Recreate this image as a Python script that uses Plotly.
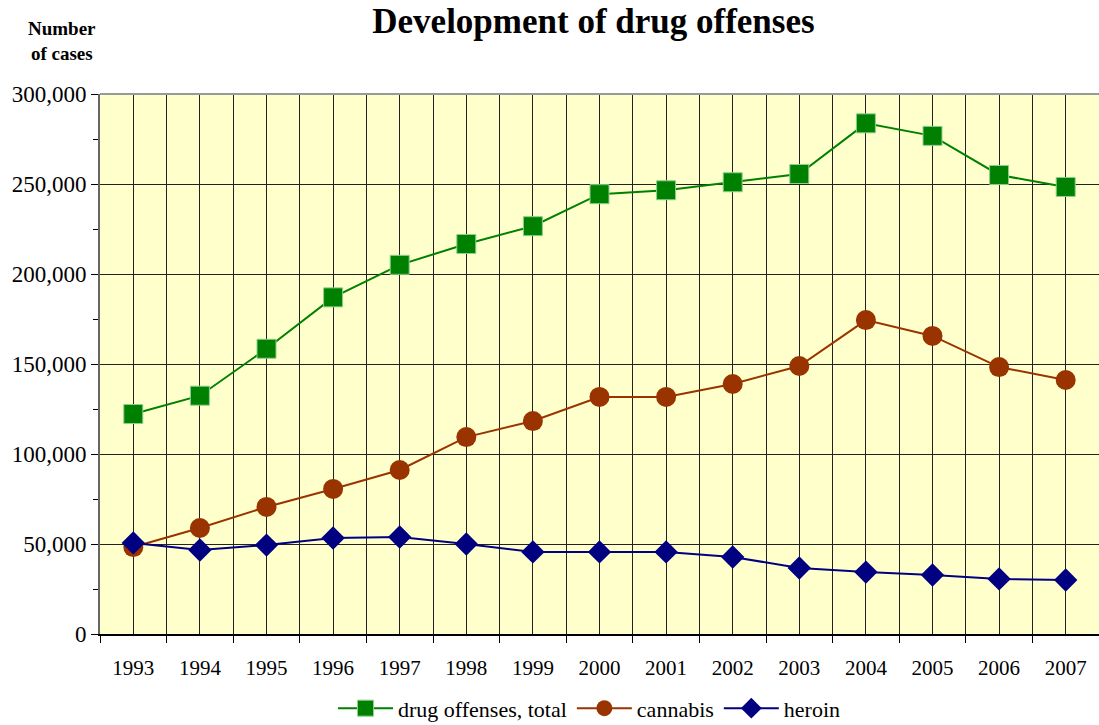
import plotly.graph_objects as go

YEARS = ["1993", "1994", "1995", "1996", "1997", "1998", "1999", "2000",
         "2001", "2002", "2003", "2004", "2005", "2006", "2007"]
TOTAL = [122240, 132389, 158477, 187022, 205099, 216682, 226563, 244336,
         246518, 250969, 255575, 283708, 276740, 255019, 248355]
CANNABIS = [48300, 58900, 70600, 80600, 91100, 109400, 118300, 131700,
            131700, 138900, 148900, 174400, 165600, 148300, 141100]
HEROIN = [50600, 46700, 49400, 53300, 53900, 50000, 45600, 45600,
          45600, 42800, 36700, 34400, 32800, 30600, 30000]

SERIF = "Liberation Serif, Times New Roman, serif"
GREEN = "#008000"
BROWN = "#993300"
NAVY = "#000080"

xs = list(range(len(YEARS)))
bounds = [i - 0.5 for i in range(len(YEARS) + 1)]

fig = go.Figure()
fig.add_trace(go.Scatter(
    x=xs, y=TOTAL, mode="lines+markers", name="drug offenses, total",
    line={"color": GREEN, "width": 2},
    marker={"symbol": "square", "size": 19, "color": GREEN,
            "line": {"color": "#8fcf8f", "width": 1}},
))
fig.add_trace(go.Scatter(
    x=xs, y=CANNABIS, mode="lines+markers", name="cannabis",
    line={"color": BROWN, "width": 2},
    marker={"symbol": "circle", "size": 20, "color": BROWN},
))
fig.add_trace(go.Scatter(
    x=xs, y=HEROIN, mode="lines+markers", name="heroin",
    line={"color": NAVY, "width": 2},
    marker={"symbol": "diamond", "size": 18, "color": NAVY},
))

fig.update_layout(
    width=1099, height=725,
    paper_bgcolor="white", plot_bgcolor="#FFFFCC",
    margin={"l": 100, "r": 0, "t": 94, "b": 91, "autoexpand": False},
    font={"family": SERIF, "size": 20, "color": "black"},
    title={"text": "<b>Development of drug offenses</b>", "x": 0.54, "xanchor": "center",
           "y": 0.988, "yanchor": "top", "font": {"size": 35, "family": SERIF}},
    legend={"orientation": "h", "x": 0.49, "xanchor": "center",
            "yref": "container", "y": 0.023, "yanchor": "middle",
            "font": {"size": 22, "family": SERIF}, "itemwidth": 55},
    showlegend=True,
)
fig.add_annotation(
    text="<b>Number<br>of cases</b>", xref="paper", yref="paper",
    x=-0.038, y=1.098, xanchor="center", yanchor="middle", showarrow=False,
    font={"size": 19, "family": SERIF}, align="center",
)
fig.update_xaxes(
    range=[-0.5, len(YEARS) - 0.5], automargin=False,
    tickmode="array", tickvals=xs, ticktext=YEARS, ticks="",
    ticklabelstandoff=14,
    showgrid=True, gridcolor="#222222", gridwidth=1,
    showline=True, linecolor="black", linewidth=2,
    zeroline=False,
    minor={"tickmode": "array", "tickvals": bounds, "ticks": "outside",
           "ticklen": 7, "tickcolor": "black", "tickwidth": 1,
           "showgrid": True, "gridcolor": "#222222", "gridwidth": 1},
    tickfont={"size": 21, "family": SERIF},
)
fig.update_yaxes(
    range=[0, 300000], automargin=False,
    tickmode="linear", tick0=0, dtick=50000,
    tickformat=",", ticks="outside", ticklen=7, tickcolor="black",
    showgrid=True, gridcolor="#222222", gridwidth=1,
    showline=True, linecolor="#666666", linewidth=2,
    zeroline=False,
    minor={"dtick": 25000, "ticks": "outside", "ticklen": 5,
           "tickcolor": "black", "showgrid": False},
    tickfont={"size": 23, "family": SERIF},
)
# top border of the plot area
fig.add_shape(type="line", xref="paper", yref="paper", x0=0, x1=1, y0=1, y1=1,
              line={"color": "#999999", "width": 2})

fig.write_html("out.html", config={"displayModeBar": False},
               post_script="document.body.style.margin='0';")
